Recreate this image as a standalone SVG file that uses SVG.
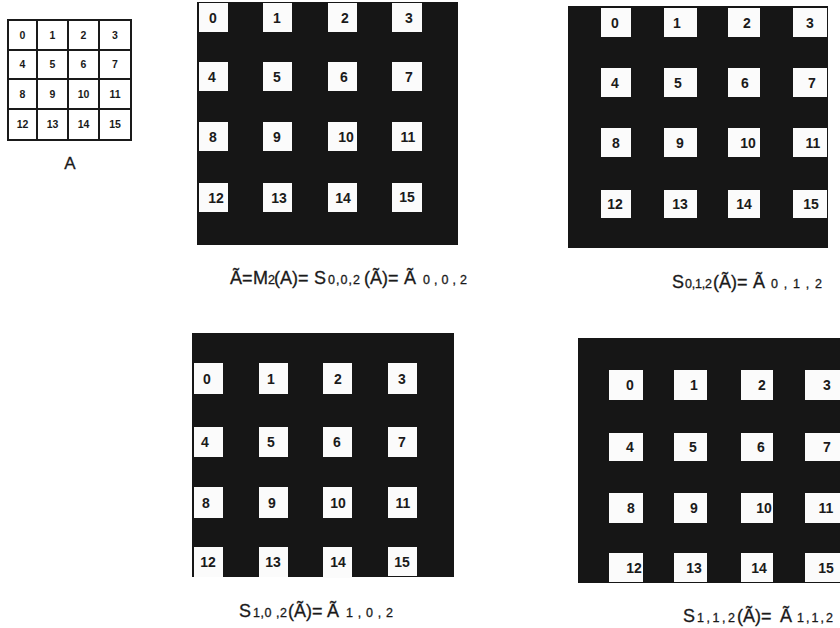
<svg xmlns="http://www.w3.org/2000/svg" width="840" height="628" viewBox="0 0 840 628">
<style>
.bg{fill:#161616}
.sq{fill:#fbfbfb}
.n{font-family:"Liberation Sans",Arial,sans-serif;font-size:14px;font-weight:bold;fill:#1a1a1a;text-anchor:middle}
.sn{font-family:"Liberation Sans",Arial,sans-serif;font-size:10.5px;font-weight:bold;fill:#1a1a1a;text-anchor:middle}
.gl{fill:none;stroke:#1a1a1a;stroke-width:2}
.lb{font-family:"Liberation Sans",Arial,sans-serif;font-size:18px;fill:#1a1a1a;stroke:#1a1a1a;stroke-width:0.3}
.sub{font-size:12.5px}
</style>
<rect width="840" height="628" fill="#ffffff"/>

<g id="gridA">
<rect class="gl" x="8" y="20" width="123" height="120"/>
<path class="gl" d="M37 20V140M68 20V140M99 20V140M8 50H131M8 79H131M8 109H131"/>
<text class="sn" x="22.5" y="39">0</text><text class="sn" x="52.5" y="39">1</text><text class="sn" x="83.5" y="39">2</text><text class="sn" x="115" y="39">3</text>
<text class="sn" x="22.5" y="68">4</text><text class="sn" x="52.5" y="68">5</text><text class="sn" x="83.5" y="68">6</text><text class="sn" x="115" y="68">7</text>
<text class="sn" x="22.5" y="98">8</text><text class="sn" x="52.5" y="98">9</text><text class="sn" x="83.5" y="98">10</text><text class="sn" x="115" y="98">11</text>
<text class="sn" x="22.5" y="128">12</text><text class="sn" x="52.5" y="128">13</text><text class="sn" x="83.5" y="128">14</text><text class="sn" x="115" y="128">15</text>
<text class="lb" x="70" y="169" text-anchor="middle" style="font-size:17px">A</text>
</g>

<g id="panel-002">
<rect class="bg" x="197" y="2" width="261" height="243"/>
<rect class="sq" x="199" y="3" width="29" height="29"/><rect class="sq" x="263" y="3" width="29" height="29"/><rect class="sq" x="328" y="3" width="29" height="29"/><rect class="sq" x="392" y="3" width="30" height="29"/>
<rect class="sq" x="199" y="62" width="29" height="29"/><rect class="sq" x="263" y="62" width="29" height="29"/><rect class="sq" x="328" y="62" width="29" height="29"/><rect class="sq" x="392" y="62" width="30" height="29"/>
<rect class="sq" x="199" y="122" width="29" height="29"/><rect class="sq" x="263" y="122" width="29" height="29"/><rect class="sq" x="328" y="122" width="29" height="29"/><rect class="sq" x="392" y="122" width="30" height="29"/>
<rect class="sq" x="199" y="183" width="29" height="29"/><rect class="sq" x="263" y="183" width="29" height="29"/><rect class="sq" x="328" y="183" width="29" height="29"/><rect class="sq" x="392" y="183" width="30" height="29"/>
<text class="n" x="213" y="23">0</text><text class="n" x="277" y="23">1</text><text class="n" x="345" y="23">2</text><text class="n" x="409" y="23">3</text>
<text class="n" x="212" y="82">4</text><text class="n" x="277" y="82">5</text><text class="n" x="344" y="82">6</text><text class="n" x="409" y="82">7</text>
<text class="n" x="213" y="142">8</text><text class="n" x="277" y="142">9</text><text class="n" x="346" y="142">10</text><text class="n" x="408" y="142">11</text>
<text class="n" x="216" y="203">12</text><text class="n" x="279" y="203">13</text><text class="n" x="343" y="203">14</text><text class="n" x="407" y="202">15</text>
<text class="lb" y="284"><tspan x="230">Ã=</tspan><tspan x="253">M</tspan><tspan class="sub" x="268">2</tspan><tspan x="274">(A)=</tspan><tspan x="314">S</tspan><tspan class="sub" x="328" textLength="32">0,0,2</tspan><tspan x="364">(Ã)=</tspan><tspan x="404">Ã</tspan><tspan class="sub" x="423" textLength="44">0,0,2</tspan></text>
</g>

<g id="panel-012">
<rect class="bg" x="568" y="6" width="260" height="242"/>
<rect class="sq" x="601" y="8" width="30" height="29"/><rect class="sq" x="664" y="8" width="33" height="29"/><rect class="sq" x="728" y="8" width="32" height="29"/><rect class="sq" x="793" y="8" width="34" height="29"/>
<rect class="sq" x="601" y="68" width="30" height="29"/><rect class="sq" x="664" y="68" width="33" height="29"/><rect class="sq" x="728" y="68" width="32" height="29"/><rect class="sq" x="793" y="68" width="34" height="29"/>
<rect class="sq" x="601" y="128" width="30" height="29"/><rect class="sq" x="664" y="128" width="33" height="29"/><rect class="sq" x="728" y="128" width="32" height="29"/><rect class="sq" x="793" y="128" width="34" height="29"/>
<rect class="sq" x="601" y="190" width="30" height="28"/><rect class="sq" x="664" y="190" width="33" height="28"/><rect class="sq" x="728" y="190" width="32" height="28"/><rect class="sq" x="793" y="190" width="34" height="28"/>
<text class="n" x="615" y="28">0</text><text class="n" x="677" y="28">1</text><text class="n" x="747" y="28">2</text><text class="n" x="810" y="28">3</text>
<text class="n" x="615" y="88">4</text><text class="n" x="678" y="88">5</text><text class="n" x="745" y="88">6</text><text class="n" x="812" y="88">7</text>
<text class="n" x="616" y="148">8</text><text class="n" x="680" y="148">9</text><text class="n" x="748" y="148">10</text><text class="n" x="813" y="148">11</text>
<text class="n" x="615" y="209">12</text><text class="n" x="680" y="209">13</text><text class="n" x="744" y="209">14</text><text class="n" x="811" y="209">15</text>
<text class="lb" y="288"><tspan x="672">S</tspan><tspan class="sub" x="685" textLength="27">0,1,2</tspan><tspan x="713">(Ã)=</tspan><tspan x="753">Ã</tspan><tspan class="sub" x="771" textLength="51">0,1,2</tspan></text>
</g>

<g id="panel-102">
<rect class="bg" x="192" y="333" width="262" height="244"/>
<rect class="sq" x="194" y="363" width="29" height="31"/><rect class="sq" x="259" y="363" width="29" height="31"/><rect class="sq" x="323" y="363" width="29" height="31"/><rect class="sq" x="388" y="363" width="29" height="31"/>
<rect class="sq" x="194" y="427" width="29" height="30"/><rect class="sq" x="259" y="427" width="29" height="30"/><rect class="sq" x="323" y="427" width="29" height="30"/><rect class="sq" x="388" y="427" width="29" height="30"/>
<rect class="sq" x="194" y="487" width="29" height="31"/><rect class="sq" x="259" y="487" width="29" height="31"/><rect class="sq" x="323" y="487" width="29" height="31"/><rect class="sq" x="388" y="487" width="29" height="31"/>
<rect class="sq" x="194" y="547" width="29" height="30"/><rect class="sq" x="259" y="547" width="29" height="30"/><rect class="sq" x="323" y="547" width="29" height="31"/><rect class="sq" x="388" y="547" width="29" height="29"/>
<text class="n" x="207" y="384">0</text><text class="n" x="271" y="384">1</text><text class="n" x="338" y="384">2</text><text class="n" x="402" y="384">3</text>
<text class="n" x="205" y="447">4</text><text class="n" x="271" y="447">5</text><text class="n" x="337" y="447">6</text><text class="n" x="402" y="447">7</text>
<text class="n" x="206" y="508">8</text><text class="n" x="272" y="508">9</text><text class="n" x="338" y="508">10</text><text class="n" x="403" y="508">11</text>
<text class="n" x="208" y="567">12</text><text class="n" x="273" y="567">13</text><text class="n" x="338" y="567">14</text><text class="n" x="402" y="567">15</text>
<text class="lb" y="617"><tspan x="239">S</tspan><tspan class="sub" x="253" textLength="34">1,0 ,2</tspan><tspan x="288">(Ã)=</tspan><tspan x="327">Ã</tspan><tspan class="sub" x="346" textLength="47">1,0,2</tspan></text>
</g>

<g id="panel-112">
<rect class="bg" x="578" y="338" width="262" height="245"/>
<rect class="sq" x="609" y="370" width="34" height="30"/><rect class="sq" x="674" y="370" width="33" height="30"/><rect class="sq" x="741" y="370" width="32" height="30"/><rect class="sq" x="805" y="370" width="35" height="30"/>
<rect class="sq" x="609" y="433" width="34" height="28"/><rect class="sq" x="674" y="433" width="33" height="28"/><rect class="sq" x="741" y="433" width="32" height="28"/><rect class="sq" x="805" y="433" width="35" height="28"/>
<rect class="sq" x="609" y="493" width="34" height="30"/><rect class="sq" x="674" y="493" width="33" height="30"/><rect class="sq" x="741" y="493" width="32" height="30"/><rect class="sq" x="805" y="493" width="35" height="30"/>
<rect class="sq" x="609" y="553" width="34" height="29"/><rect class="sq" x="674" y="553" width="33" height="29"/><rect class="sq" x="741" y="553" width="32" height="29"/><rect class="sq" x="805" y="553" width="35" height="29"/>
<text class="n" x="630" y="390">0</text><text class="n" x="694" y="390">1</text><text class="n" x="762" y="390">2</text><text class="n" x="827" y="390">3</text>
<text class="n" x="630" y="452">4</text><text class="n" x="693" y="452">5</text><text class="n" x="761" y="452">6</text><text class="n" x="827" y="452">7</text>
<text class="n" x="631" y="513">8</text><text class="n" x="694" y="513">9</text><text class="n" x="764" y="513">10</text><text class="n" x="826" y="513">11</text>
<text class="n" x="634" y="573">12</text><text class="n" x="694" y="573">13</text><text class="n" x="759" y="573">14</text><text class="n" x="826" y="573">15</text>
<text class="lb" y="622"><tspan x="683">S</tspan><tspan class="sub" x="697" textLength="38">1,1,2</tspan><tspan x="737">(Ã)=</tspan><tspan x="780">Ã</tspan><tspan class="sub" x="797" textLength="36">1,1,2</tspan></text>
</g>
</svg>
